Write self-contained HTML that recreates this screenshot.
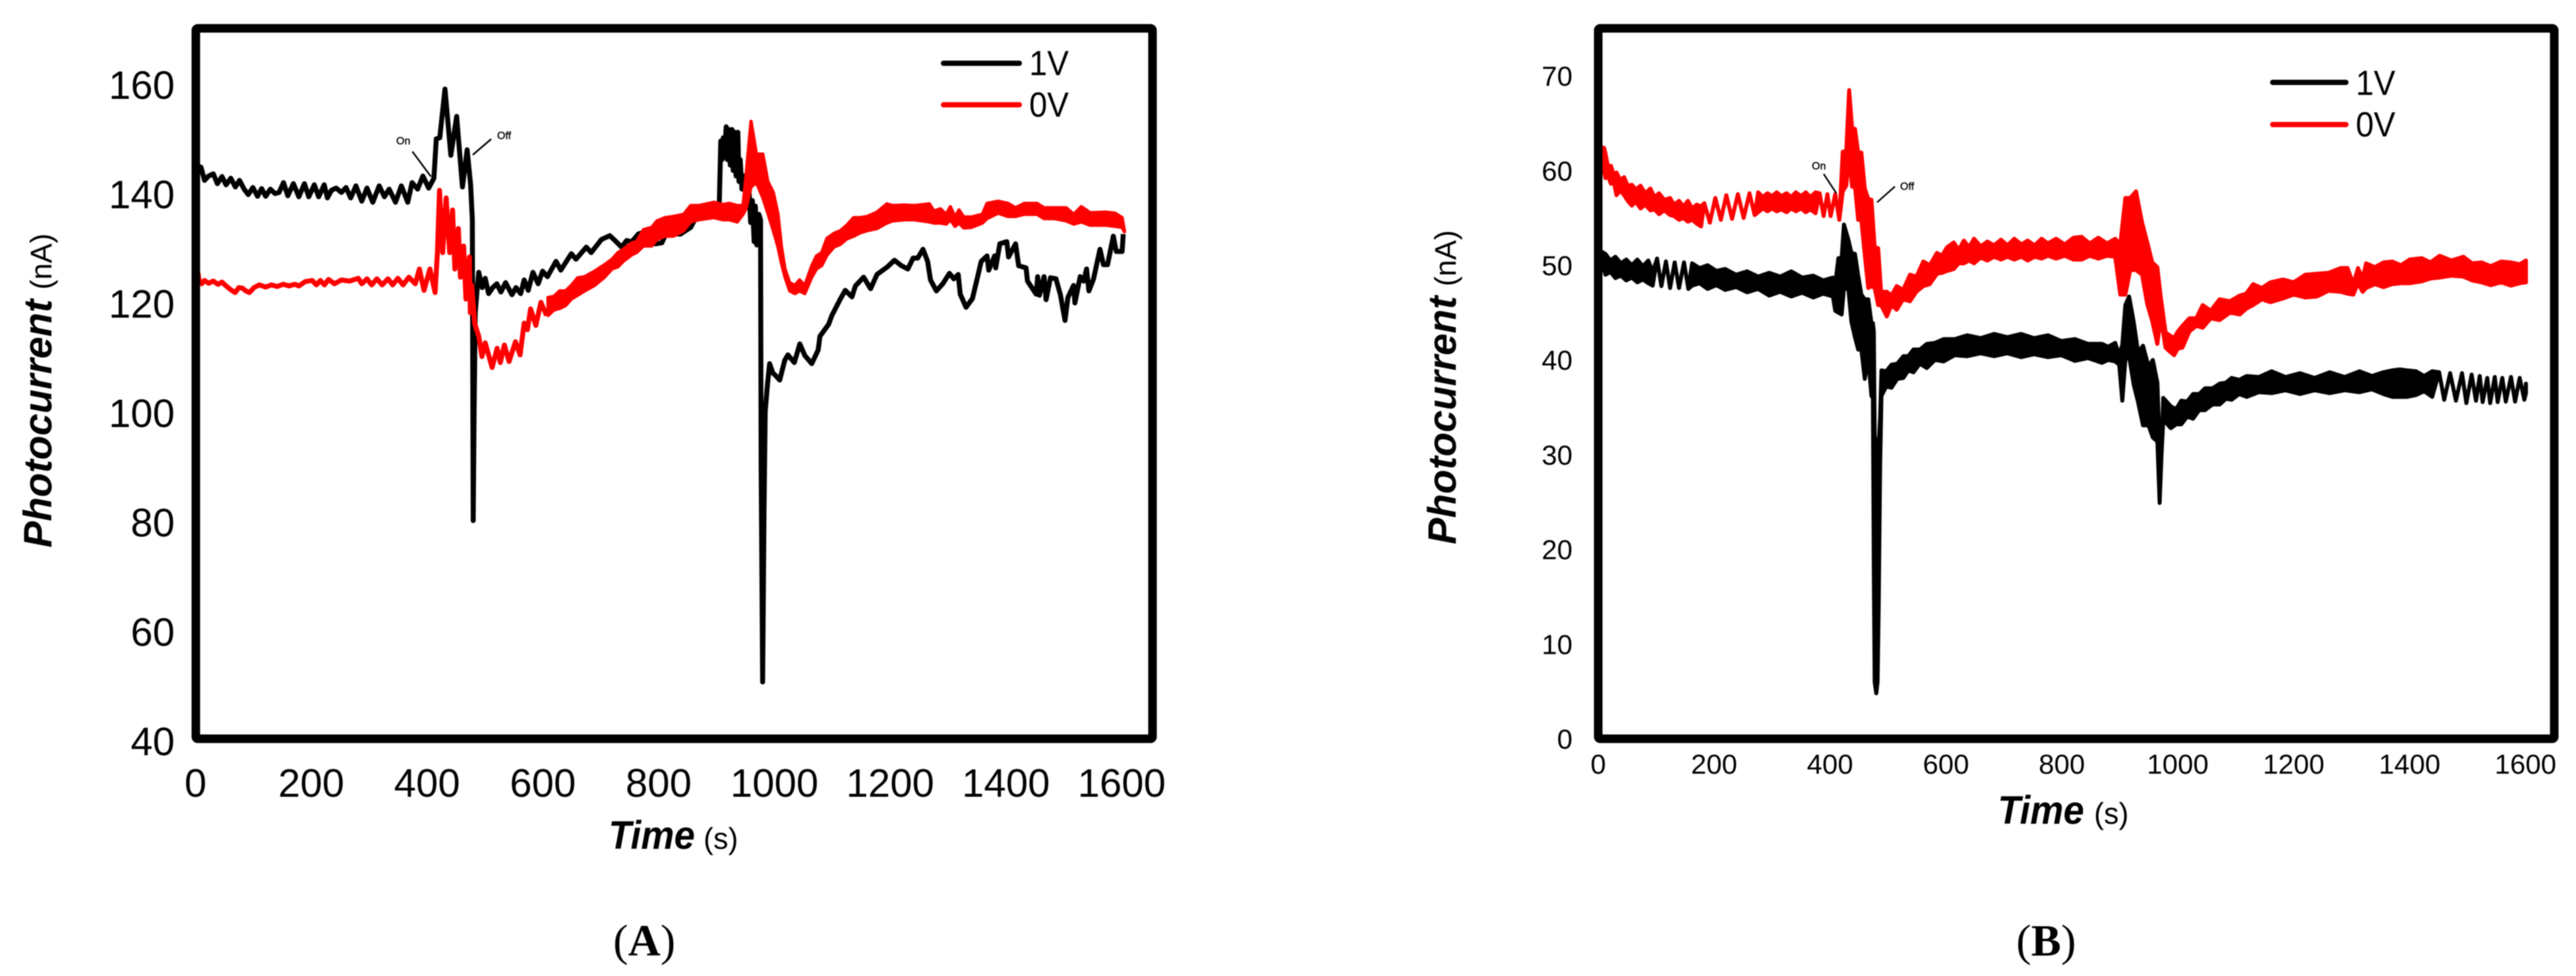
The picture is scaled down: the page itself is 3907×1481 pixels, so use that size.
<!DOCTYPE html>
<html lang="en">
<head>
<meta charset="utf-8">
<title>Photocurrent versus time, panels A and B</title>
<style>
html,body{margin:0;padding:0;background:#fff;}
#figure{display:block;width:3907px;height:1481px;filter:blur(0.7px);}
text{font-family:"Liberation Sans",sans-serif;fill:#000;}
.tick{font-size:60px;}
.tick-b{font-size:42px;}
.legend-label{font-size:53px;}
.note{font-size:16px;stroke:#000;stroke-width:0.4px;}
.title-main{font-weight:bold;font-style:italic;}
.panel-label{font-family:"Liberation Serif",serif;font-size:68px;}
</style>
</head>
<body>
<svg id="figure" xmlns="http://www.w3.org/2000/svg" width="3907" height="1481" viewBox="0 0 3907 1481">
  <rect x="0" y="0" width="3907" height="1481" fill="#fff"/>

  <g id="panel-a">
    <g id="a-series"></g>
    <rect x="297" y="43" width="1451" height="1078" rx="3" fill="none" stroke="#000" stroke-width="13"/>
    <g id="a-ticks"></g>
    <text transform="translate(78,831) rotate(-90)"><tspan class="title-main" font-size="60">Photocurrent</tspan><tspan font-size="45" dx="15">(nA)</tspan></text>
    <text class="title-main" x="923" y="1288" font-size="60" textLength="131" lengthAdjust="spacingAndGlyphs">Time</text>
    <text x="1067" y="1288" font-size="45">(s)</text>
    <line x1="1431" y1="96" x2="1546" y2="96" stroke="#000" stroke-width="8" stroke-linecap="round"/>
    <line x1="1431" y1="159" x2="1546" y2="159" stroke="#f00" stroke-width="8" stroke-linecap="round"/>
    <text class="legend-label" x="1561" y="114" textLength="60" lengthAdjust="spacingAndGlyphs">1V</text>
    <text class="legend-label" x="1561" y="177" textLength="60" lengthAdjust="spacingAndGlyphs">0V</text>
    <text class="note" x="601" y="219">On</text>
    <line x1="625.5" y1="230" x2="653.6" y2="268" stroke="#000" stroke-width="2.5"/>
    <text class="note" x="754" y="211">Off</text>
    <line x1="745" y1="211" x2="717" y2="235" stroke="#000" stroke-width="2.5"/>
    <text class="panel-label" x="930" y="1450">(<tspan font-weight="bold">A</tspan>)</text>
  </g>

  <g id="panel-b">
    <g id="b-series"></g>
    <rect x="2424" y="43" width="1450" height="1078" rx="3" fill="none" stroke="#000" stroke-width="13"/>
    <g id="b-ticks"></g>
    <text transform="translate(2208,826) rotate(-90)"><tspan class="title-main" font-size="60">Photocurrent</tspan><tspan font-size="45" dx="15">(nA)</tspan></text>
    <text class="title-main" x="3030" y="1250" font-size="60" textLength="131" lengthAdjust="spacingAndGlyphs">Time</text>
    <text x="3176" y="1250" font-size="45">(s)</text>
    <line x1="3447" y1="125" x2="3558" y2="125" stroke="#000" stroke-width="8" stroke-linecap="round"/>
    <line x1="3447" y1="189" x2="3558" y2="189" stroke="#f00" stroke-width="8" stroke-linecap="round"/>
    <text class="legend-label" x="3573" y="144" textLength="60" lengthAdjust="spacingAndGlyphs">1V</text>
    <text class="legend-label" x="3573" y="207" textLength="60" lengthAdjust="spacingAndGlyphs">0V</text>
    <text class="note" x="2748" y="257">On</text>
    <line x1="2766" y1="264" x2="2785" y2="293" stroke="#000" stroke-width="2.5"/>
    <text class="note" x="2882" y="288">Off</text>
    <line x1="2874" y1="283" x2="2847" y2="307" stroke="#000" stroke-width="2.5"/>
    <text class="panel-label" x="3058" y="1450">(<tspan font-weight="bold">B</tspan>)</text>
  </g>
</svg>

<script>
// Tick labels
var aXTicks = [0, 200, 400, 600, 800, 1000, 1200, 1400, 1600];
var aYTicks = [40, 60, 80, 100, 120, 140, 160];
var bXTicks = [0, 200, 400, 600, 800, 1000, 1200, 1400, 1600];
var bYTicks = [0, 10, 20, 30, 40, 50, 60, 70];

// Panel A, 1 V trace
var aTime1V = [
1,5,9,15,22,30,37,45,52,60,
68,75,83,90,98,106,113,120,128,136,
143,150.6,158,167.6,177,186.5,194,203.5,211,220.5,
226,233,241,250,258,266,275,285,294,304,
315,324,332,343,353,364,371.5,381,390,400,
409,413,419,428,438,448,458,466,472,475,
476.5,478,480,483,486,492,497,503,510,517,
524,532,543,550,558,564,571,579,588,595.6,
604,618.7,627,645,653,670.7,679,696.7,711,720,
731.3,740,749,760,772,789,800.6,809,820,832.5,
850,856,870,887,899,901.7,904,906,908,911,
913,916,918,921,923,926,928,931,933,935,
938,942,945,950,953,956,959,961,963.5,967,
970,971,973.6,976,978,982,985.6,991,996,1003,
1011.5,1017,1028,1037.5,1046,1058,1069,1072,1087,1092.4,
1107,1115.5,1127,1133,1147,1159,1170,1188,1200,1212,
1223,1232,1240,1249,1257,1262,1272,1283,1294.5,1302,
1309.5,1313,1323,1334,1342,1349,1359,1362,1372,1374,
1381,1393,1396,1408,1413.4,1426,1428.5,1443.5,1446,1449,
1457,1460.5,1468,1477.5,1485,1493,1498,1507.7,1510,1519,
1525,1530,1534,1542,1553,1559,1566,1576,1581,1591,
1593];
var aCurrent1V = [
144,144.8,144.6,142.2,143,143.4,141.6,142.9,141.4,142.6,
141,142.2,140.6,139.6,140.9,139.3,140.7,139.3,140.6,139.8,
140,141.8,139.4,141.6,139.2,141.6,139.2,141.4,139.2,141.4,
139,140.4,140.8,140,140.9,139,141.2,138.4,140.8,138.2,
141.2,139.2,140.6,138.2,141.2,138.2,141.8,140.6,143,140.8,
142.6,149.8,150,158.9,146.8,153.9,141,147.8,141.4,135,
80,100,118,122,125.4,122.6,124.3,121.5,122.6,123.3,
121.8,123.5,121.3,122.6,121.5,124,122.1,125.4,123.3,125.6,
124.6,127.4,125.8,128.8,127.8,130,129,131.4,132.1,131.2,
130,131.2,131,132.4,132.8,130.6,130.8,132.8,132.4,132.4,
133.6,134.8,136.2,137.2,137.2,149.4,146,150,146.5,152,
146,151.5,145,151.5,144,151,143,151,142,146,
140.6,143,139,141,134.5,138.5,131,137.5,130.4,136,
135,90,50.5,82,100,105,108.7,107,106.5,105.7,
109.3,110.3,108.9,112.3,110.2,108.7,111.2,113.7,115.9,117.5,
120.5,122.1,120.9,122.9,124.5,122.4,125,126.4,127.6,126.6,
126,128,128,129.6,127.4,124,122,123.3,125.2,124.2,
125,121.4,119,120.6,124.2,127.4,128.4,125.8,128.4,126.2,
130.6,131,128.2,130.6,126.6,126.2,123.8,121.4,124.6,121.2,
124.6,120.4,124.4,124.2,121.3,116.6,120.8,123,119.8,124.6,
123.8,126,122,124.2,129.6,126.8,126.8,132,129.2,129.2,
132.4];

// Panel A, 0 V trace: single wiggling line up to 600 s
var aTime0V = [
1.5,5.3,10,15,22,30,38,45,52,60,
67.6,74,80,86,92,100,109,120,130,140,
150,160,170,177,188,200,207,214,221,228,
238,250,264,279,285,294,302,311,320,330,
338,347,356,366,377,384,392,402,411,415,
418.6,424,430,436,441,445,451,454.5,460,464,
470,471.5,474,479,486,491.5,497,509,517.6,523,
530,538,549,557,564,569.6,575,584,592.7,602.5];
var aCurrent0V = [
126.8,124.1,123.3,123.9,123.4,123.8,123.2,123.6,122.9,122.2,
121.7,122.6,122.5,122,121.7,122.6,123.1,122.7,123.1,122.8,
123.2,122.9,123.2,122.9,123.7,123.9,123.1,123.9,123.1,124.1,
123.3,124,123.8,124.3,123.3,124.2,123.1,124.2,123.1,124.2,
123.1,124.3,123.1,124.5,123.3,126,122.1,126,121.7,129,
140.4,129,139,129,136.8,126,133.4,124.5,130.2,120.5,
128.2,118,123,116,113.7,110,112.5,108,111.5,108.9,
112.1,109.1,112.7,110.3,116.1,114.9,118.7,115.7,119.9,117.5];

// Panel A, 0 V trace: upper and lower edge of the noise band after 600 s
var aBandTime0V = [
605,615,625,635,645,656,668,685,702,715,
725,734,749,757,769,783,792,806,820,838,
850,864,890,905,916,930,940,945,953.7,963,
974,982.6,992,1000,1006,1012,1020,1029,1037,1046,
1058,1066,1075,1084,1096,1107,1118,1130,1141,1153,
1170,1187,1197,1217,1234,1260,1268,1279,1289,1296,
1304,1311,1319,1332,1351,1359,1378,1395,1408,1423,
1445,1457,1475,1495,1508,1521,1536,1563,1579,1591,
1595];
var aBandHigh0V = [
120.8,121,122,122,123,124.4,124.6,125.6,126.8,127.8,
129,129.6,130.8,131,133.2,133.6,134.8,135.4,135.6,136,
137.6,137.6,138.2,137.8,138,137.6,137.6,143,153,147,
147,142,140,136,130,126,123.5,123,124,123,
126.6,128.4,129,131.6,132.5,133,134,135.4,135.4,135.6,
136.4,137.9,137.6,137.7,137.6,137.9,136.6,137,136,137.4,
135.5,136.8,135.5,135.5,136,138,138.4,138,137.2,138,
138,137.2,137.2,137.2,136,137.4,136.3,136.4,136.2,135.4,
133];
var aBandLow0V = [
117.5,118.5,118.8,119.3,120.5,121.2,122,123,124.5,126,
126.4,127.4,128.6,129,130.2,130.2,131.4,132,132,133,
134.6,135,135.4,135,135,134.6,136,137,141,141.8,
139,136.2,133,130,127,124.5,122,121.5,122,121.5,
124.5,126,126.6,128.5,130,130.5,131.5,132,132.6,133,
133.4,134.4,134.8,135,135,134.6,134.4,134.4,134.2,135,
133.8,134.4,133.5,133.6,134.4,135.2,136.2,135.6,135.6,136,
136,135.2,135.2,134.8,134.2,134.6,134,134,133.8,133.6,
132.8];

// Panel B, 1 V trace (upper and lower edge of the oscillating band)
var bTime1V = [
3,6.8,12.5,21,29.6,39,48.5,58,67.5,77,86.5,94,
101.6,109,116.8,124,132,139.5,148,155.5,
162,175,188.9,204,219,238,257,276,295,314,333,352,371,388,405,
409,414.5,420,424,431.6,437,443,448.6,454,460,466,471.5,474,475.5,477,479.7,482,484,486.5,488.7,
497,506,516,526.5,535,544,555,567,581,596,615,636.7,660,683,706,729.6,752,776,799,822.5,845,869,880,892,899,
904.3,909.5,916,924,931.5,940,949.5,957,964.8,968.7,972,975,988,
997,1006,1016,1026.4,1037,1047,1060,1072.5,1083,1093,1106,1119,1140,1162,1186,1211,1236,1262,1288,1313.6,1335,1354.6,1370,1383,1395.6,1411,1425,1439,
1451,1459.7,1470,1480,1490.5,1498,1507,1514.6,1521,1526,1534,1539,1547,1552,
1560,1566,1575,1582,1590,1598,1600.8];
var bHigh1V = [
51,51.4,51.2,50.5,50.9,50.2,50.6,50,50.6,49.9,50.5,49.3,
50.7,47.8,50.4,47.6,50.3,47.6,50.3,47.5,
50.2,49.7,50,49.4,49.6,49,49.35,48.8,49.2,48.8,49.35,48.7,48.9,48.4,48.7,
48,50.75,50.75,54.3,52.7,51.3,51.2,48.9,46.9,46.4,46.4,43.9,43.9,43,32,31,29,31,34,38.9,
38.8,39.5,39.6,40.4,40.4,41.1,41.1,41.7,41.8,42.2,42.2,42.6,42.3,42.75,42.4,42.75,42.3,42.6,42,42.2,41.7,41.7,41.4,41.8,40.5,
41.6,45.8,46.7,44,40.8,41.5,39.3,40,37.6,31,30,36,35.1,
34.8,35.7,35.6,36.4,36.4,37,37,37.5,37.6,38.1,37.9,38.3,38.2,38.8,38.2,38.6,38.1,38.7,38.2,38.8,38.3,38.7,38.9,39,38.9,38.8,38.3,38.8,
38.7,35.8,38.6,35.7,38.6,35.45,38.45,35.7,38.3,35.55,38.1,35.45,38.2,35.55,
38.1,35.6,38.2,35.6,38.1,35.8,37.5];
var bLow1V = [
50,50.2,49,49.3,48.65,48.9,48.4,48.7,48.2,48.5,48.1,47.85,
50.7,47.8,50.4,47.6,50.3,47.6,50.3,47.5,
47.85,48.1,47.5,47.9,47.4,47.7,47.15,47.5,46.8,47.2,46.7,47.1,46.6,47,46.7,
45.2,45,44.8,47.6,47.5,44,42.4,41.1,41.1,38,40.2,36.2,36,18,6,4.8,6,14,29,36.2,
37.2,37.06,38,38.1,38.9,38.7,39.6,39.15,40,39.85,40.5,40.4,40.7,40.4,40.7,40.3,40.6,40.3,40.5,39.9,40.2,39.7,40,39.85,39.5,
35.7,40,40.4,37.4,35.55,33.1,33.1,31.8,31.4,24.9,30,33.7,32.8,
33.2,33.2,34,33.8,34.7,34.7,35.3,35.3,35.9,35.8,36.4,36.1,36.6,36.5,36.8,36.4,36.8,36.5,36.8,36.6,36.9,36.4,36.1,36.1,36.1,36.3,36.7,36.1,
38.7,35.8,38.6,35.7,38.6,35.45,38.45,35.7,38.3,35.55,38.1,35.45,38.2,35.55,
38.1,35.6,38.2,35.6,38.1,35.8,36.5];

// Panel B, 0 V trace (upper and lower edge of the oscillating band)
var bTime0V = [
3,10,12.5,17,22,27,31.5,38,44.7,51,58,65,73,81,90,97,105,114,124,131,139.5,147,154.7,162,170,177.5,
183,192.6,202,211.6,221,231,241,251,261,270,
276,284,292,300,308,316,325,333,341,350,358,366,375,
382,389,395.5,401,409,416,422,428,433,438,443,448.6,454,460,466,471.5,477,483,488,498,
506,515,526,538,549,561,572,584.5,593,602,613.5,622,631,640,648.3,660,671.6,683,695,706,718,730,741,753,765,776,790,805,820,834,848,863,878,892,
900.8,909.5,918,928,938.5,947,956,964.7,970.5,979,986,993.7,1000,1008,1020,
1032,1043,1057,1072,1090,1107,1118,1130,1145,1160,1182,1200,1220,1240,1260,1281,1293,1303,1311,1319,1325,1340,1355,1370,1385,1400,1421,1436,1452,1472,1493,1508,1524,1540,1558,1575,1590,1600.8];
var bHigh0V = [
62.5,62.4,61.8,60.4,60.5,59.5,59.8,59,59.3,58.4,58.5,58,58.4,57.6,58.1,57.2,57.6,56.9,57.1,56.4,56.8,56.2,56.8,56,56.4,56.2,
56.55,54.5,57.1,54.8,57.4,54.9,57.5,55,57.6,55.3,
57.7,57.2,57.6,57.3,57.7,57.3,57.6,57.2,57.7,57.3,57.7,57.2,57.7,
57.6,55.2,57.5,55.2,57.5,54.8,62,62,68.5,64.5,64.4,61.9,61.9,58.1,57,56.9,51.9,51.8,47.2,47.2,
46.8,47.8,47.4,49,48.8,50.4,50,51.3,51,51.9,52.4,51.6,52.6,51.9,52.8,52,52.5,52.1,52.7,52.1,52.8,52.2,52.6,52.1,52.8,52.3,52.8,52.2,52.9,53,52.3,52.9,52.3,52.8,
52.2,57.1,57.1,57.8,54.5,52.5,50.3,49.8,46.7,42.9,42.6,42.3,43,43.6,44.4,
44.4,45.8,45.2,46.4,46.2,46.8,47,48,47.6,48.2,48.5,48.2,49,49.1,49.2,49.7,49.7,48,49.7,48.6,50.2,49.8,50.3,50.4,50,50.6,50.75,50.3,51,50.5,50.9,50.2,50.3,49.9,50.4,50.3,50.1,50.5];
var bLow0V = [
61.5,60,59.2,59.4,58.6,58.8,57.4,57.9,57.4,56.8,56.3,56.7,56,56.4,55.8,55.9,55.4,55.8,55.3,55.2,54.8,55,54.6,54.8,54.4,54.1,
56.55,54.5,57.1,54.8,57.4,54.9,57.5,55,57.6,55.3,
55.6,56,55.7,56,55.7,55.9,55.6,56,55.7,56,55.6,55.9,55.5,
57.6,55.2,57.5,55.2,57.5,54.8,57.8,58.4,61.8,58.3,58.3,54.8,54.8,51.1,47.6,47.8,47.6,45.8,45.8,44.6,
45.8,45.3,46.4,46.2,47.2,47.8,48,49.1,49.2,49.4,49.6,50.2,50.2,50.5,50.2,50.8,50.5,50.9,50.6,50.9,50.6,50.9,50.5,50.9,50.7,51,50.7,51,50.6,50.6,51,50.7,51,50.9,
46.9,46.9,49.5,49.5,49,46,44.1,41.7,44.5,41.3,40.9,40.5,41.2,41.3,43,
43.6,43.4,44.4,44.2,45,44.8,45.4,45.8,46.4,46.1,46.5,46.9,46.6,46.7,47.3,47.2,47,46.9,48.1,47.2,47.6,48,47.7,48,48.1,48.1,48.3,48.6,48.7,48.9,48.8,48.4,48.2,47.9,48.2,47.85,48.1,48.2];

var SVG_NS = 'http://www.w3.org/2000/svg';

// Axis functions
function aX(t) { return 297 + 0.883 * t; }
function aY(v) { return 1122 - 8.3 * (v - 40); }
function aXLabel(t) { return 296.5 + 0.878 * t; }
function bX(t) { return 2424 + 0.879 * t; }
function bY(v) { return 1121 - 14.37 * v; }

function linePath(times, values, xFn, yFn) {
  var d = '';
  for (var i = 0; i < times.length; i++) {
    d += (i ? 'L' : 'M') + xFn(times[i]).toFixed(1) + ' ' + yFn(values[i]).toFixed(1);
  }
  return d;
}

function bandPath(times, high, low, xFn, yFn) {
  var d = '';
  var i;
  for (i = 0; i < times.length; i++) {
    d += (i ? 'L' : 'M') + xFn(times[i]).toFixed(1) + ' ' + yFn(high[i]).toFixed(1);
  }
  for (i = times.length - 1; i >= 0; i--) {
    d += 'L' + xFn(times[i]).toFixed(1) + ' ' + yFn(low[i]).toFixed(1);
  }
  return d + 'Z';
}

function addTick(parent, x, y, anchor, cls, label) {
  var el = document.createElementNS(SVG_NS, 'text');
  el.setAttribute('x', x);
  el.setAttribute('y', y);
  el.setAttribute('text-anchor', anchor);
  el.setAttribute('class', cls);
  
  
  el.textContent = label;
  parent.appendChild(el);
}

var aSeries = document.getElementById('a-series');
var bSeries = document.getElementById('b-series');
var aTicks = document.getElementById('a-ticks');
var bTicks = document.getElementById('b-ticks');

var aLine1V = document.createElementNS(SVG_NS, 'path');
aLine1V.setAttribute('d', linePath(aTime1V, aCurrent1V, aX, aY));
aLine1V.setAttribute('fill', 'none');
aLine1V.setAttribute('stroke', '#000');
aLine1V.setAttribute('stroke-width', '7.5');
aLine1V.setAttribute('stroke-linejoin', 'round');


aSeries.appendChild(aLine1V);

var aLine0V = document.createElementNS(SVG_NS, 'path');
aLine0V.setAttribute('d', linePath(aTime0V, aCurrent0V, aX, aY));
aLine0V.setAttribute('fill', 'none');
aLine0V.setAttribute('stroke', '#f00');
aLine0V.setAttribute('stroke-width', '7.5');
aLine0V.setAttribute('stroke-linejoin', 'round');


aSeries.appendChild(aLine0V);

var aBand0V = document.createElementNS(SVG_NS, 'path');
aBand0V.setAttribute('d', bandPath(aBandTime0V, aBandHigh0V, aBandLow0V, aX, aY));
aBand0V.setAttribute('fill', '#f00');
aBand0V.setAttribute('stroke', '#f00');
aBand0V.setAttribute('stroke-width', '5');
aBand0V.setAttribute('stroke-linejoin', 'round');


aSeries.appendChild(aBand0V);

var bBand1V = document.createElementNS(SVG_NS, 'path');
bBand1V.setAttribute('d', bandPath(bTime1V, bHigh1V, bLow1V, bX, bY));
bBand1V.setAttribute('fill', '#000');
bBand1V.setAttribute('stroke', '#000');
bBand1V.setAttribute('stroke-width', '6');
bBand1V.setAttribute('stroke-linejoin', 'round');


bSeries.appendChild(bBand1V);

var bBand0V = document.createElementNS(SVG_NS, 'path');
bBand0V.setAttribute('d', bandPath(bTime0V, bHigh0V, bLow0V, bX, bY));
bBand0V.setAttribute('fill', '#f00');
bBand0V.setAttribute('stroke', '#f00');
bBand0V.setAttribute('stroke-width', '6');
bBand0V.setAttribute('stroke-linejoin', 'round');


bSeries.appendChild(bBand0V);

aXTicks.forEach(function (t) { addTick(aTicks, aXLabel(t), 1209, 'middle', 'tick', String(t)); });
aYTicks.forEach(function (v) { addTick(aTicks, 265, aY(v) + 24, 'end', 'tick', String(v)); });
bXTicks.forEach(function (t) { addTick(bTicks, bX(t), 1174, 'middle', 'tick-b', String(t)); });
bYTicks.forEach(function (v) { addTick(bTicks, 2385, bY(v) + 15, 'end', 'tick-b', String(v)); });
</script>
</body>
</html>
